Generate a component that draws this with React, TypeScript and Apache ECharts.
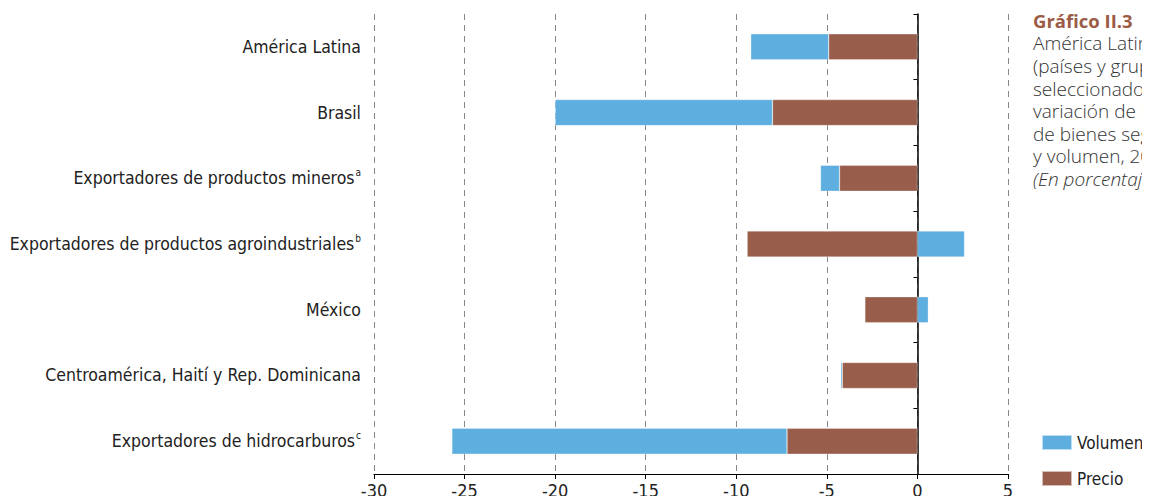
import React, { useEffect, useRef } from "react";
import * as echarts from "echarts";

const categories = [
  "América Latina",
  "Brasil",
  "Exportadores de productos mineros",
  "Exportadores de productos agroindustriales",
  "México",
  "Centroamérica, Haití y Rep. Dominicana",
  "Exportadores de hidrocarburos",
];
const footnotes = ["", "", "a", "b", "", "", "c"];
const precio = [-4.9, -8.0, -4.3, -9.4, -2.9, -4.15, -7.2];
const volumen = [-4.3, -12.0, -1.05, 2.6, 0.6, -0.08, -18.5];
const xTicks = { min: -30, max: 5, interval: 5 };
const chartNumber = "Gráfico II.3";
const titleLines = [
  "América Latina",
  "(países y grupos",
  "seleccionados):",
  "variación de las",
  "de bienes según",
  "y volumen, 2020",
];
const unitLine = "(En porcentajes)";

const labelFont = "'DejaVu Sans Condensed', 'Liberation Sans Narrow', sans-serif";
const titleFont = "'Open Sans', Lato, sans-serif";

export default function App() {
  const ref = useRef<HTMLDivElement>(null);
  useEffect(() => {
    if (!ref.current) return;
    const chart = echarts.init(ref.current, undefined, { renderer: "svg" });
    const titleText =
      `{b|${chartNumber}}\n` +
      titleLines.map((t) => `{n|${t}}`).join("\n") +
      `\n{i|${unitLine}}`;
    const graphics: any[] = [
      {
        type: "text",
        left: 1033,
        top: 11,
        style: {
          text: titleText,
          rich: {
            b: { fontFamily: titleFont, fontWeight: "bold", fontSize: 18.5, fill: "#9B5B45", lineHeight: 23 },
            n: { fontFamily: titleFont, fontWeight: 300, fontSize: 19, fill: "#333", lineHeight: 22.6 },
            i: { fontFamily: titleFont, fontWeight: 300, fontStyle: "italic", fontSize: 19, fill: "#333", lineHeight: 22.6 },
          },
        },
      },
    ];

    chart.setOption({
      animation: false,
      grid: { left: 374, right: 142, top: 14, bottom: 30, containLabel: false },
      legend: {
        orient: "vertical",
        left: 1036,
        top: 429,
        itemWidth: 30,
        itemHeight: 15,
        itemGap: 19,
        icon: "rect",
        data: ["Volumen", "Precio"],
        textStyle: { fontFamily: labelFont, fontSize: 17, color: "#222" },
      },
      xAxis: {
        type: "value",
        min: xTicks.min,
        max: xTicks.max,
        interval: xTicks.interval,
        axisLine: { show: true, onZero: false, lineStyle: { color: "#000", width: 1.2 } },
        axisTick: { show: true, length: 5, lineStyle: { color: "#000" } },
        axisLabel: { fontFamily: labelFont, fontSize: 18, color: "#222", margin: 7 },
        splitLine: { show: true, lineStyle: { color: "#888", type: [6, 5], width: 1 } },
      },
      yAxis: [
        {
          type: "category",
          data: categories,
          inverse: true,
          axisLine: { show: false, onZero: false },
          axisTick: { show: false },
          axisLabel: {
            margin: 13,
            formatter: (v: string) => {
              const i = categories.indexOf(v);
              const f = footnotes[i];
              return f ? `{n|${v}}{s|${f}}` : `{n|${v}}`;
            },
            rich: {
              n: { fontFamily: labelFont, fontSize: 17.5, color: "#222", lineHeight: 22 },
              s: { fontFamily: labelFont, fontSize: 10, color: "#222", lineHeight: 22, verticalAlign: "top", padding: [0, 0, 8, 1] },
            },
          },
        },
        {
          type: "category",
          data: categories,
          inverse: true,
          position: "left",
          axisLine: { show: true, onZero: true, lineStyle: { color: "#000", width: 1.5 } },
          axisTick: { show: true, length: 4, lineStyle: { color: "#000" } },
          axisLabel: { show: false },
          splitLine: { show: false },
        },
      ],
      series: [
        {
          name: "Precio",
          type: "bar",
          stack: "total",
          yAxisIndex: 0,
          barWidth: 26,
          data: precio,
          itemStyle: { color: "#995E4B", borderColor: "rgba(255,255,255,0.6)", borderWidth: 0.5 },
        },
        {
          name: "Volumen",
          type: "bar",
          stack: "total",
          yAxisIndex: 0,
          barWidth: 26,
          data: volumen,
          itemStyle: { color: "#5EAEE0", borderColor: "rgba(255,255,255,0.6)", borderWidth: 0.5 },
        },
      ],
      graphic: graphics,
    });
    return () => chart.dispose();
  }, []);
  return <div ref={ref} style={{ width: 1150, height: 504, margin: -8 }} />;
}
